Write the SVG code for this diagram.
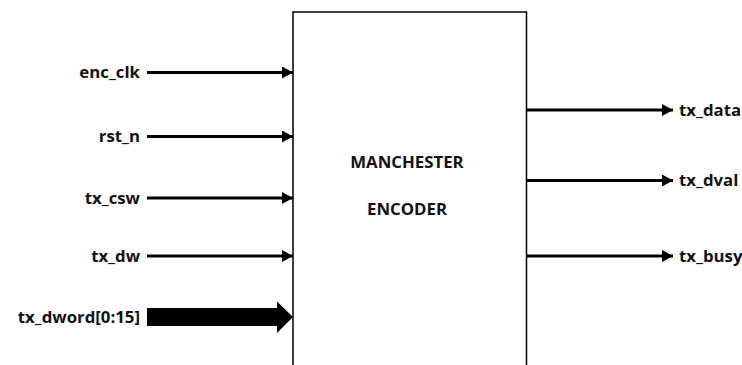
<svg xmlns="http://www.w3.org/2000/svg" width="742" height="365" viewBox="0 0 742 365">
<style>
text{font-family:"Open Sans","Liberation Sans",sans-serif;font-weight:bold;font-size:16.8px;fill:#111}
.in{text-anchor:end}
.w{stroke:#000;stroke-width:3;fill:none}
</style>
<defs>
<marker id="ah" markerUnits="userSpaceOnUse" markerWidth="12" markerHeight="12" refX="11" refY="6" orient="auto">
<path d="M0,0 L11,6 L0,12 Z" fill="#000"/>
</marker>
</defs>
<rect width="742" height="365" fill="#fff"/>
<g id="encoder">
<path d="M293,366 V12 H526.5 V366" fill="none" stroke="#000" stroke-width="1.5"/>
<text x="407" y="168" text-anchor="middle">MANCHESTER</text>
<text x="407" y="215" text-anchor="middle">ENCODER</text>
</g>
<g id="connectors">
<line class="w" x1="147" y1="72.5" x2="293" y2="72.5" marker-end="url(#ah)"/>
<line class="w" x1="147" y1="136.5" x2="293" y2="136.5" marker-end="url(#ah)"/>
<line class="w" x1="147" y1="198" x2="293" y2="198" marker-end="url(#ah)"/>
<line class="w" x1="147" y1="256" x2="293" y2="256" stroke-width="2.5" marker-end="url(#ah)"/>
<path d="M147,308 H277 V301.5 L293,317 L277,333 V326 H147 Z" fill="#000"/>
<line class="w" x1="526.5" y1="110" x2="673" y2="110" marker-end="url(#ah)"/>
<line class="w" x1="526.5" y1="180.5" x2="673" y2="180.5" stroke-width="2.5" marker-end="url(#ah)"/>
<line class="w" x1="526.5" y1="256" x2="673" y2="256" marker-end="url(#ah)"/>
</g>
<g id="port-enc_clk"><text class="in" x="140" y="78">enc_clk</text></g>
<g id="port-rst_n"><text class="in" x="140" y="142">rst_n</text></g>
<g id="port-tx_csw"><text class="in" x="140" y="204">tx_csw</text></g>
<g id="port-tx_dw"><text class="in" x="140" y="262">tx_dw</text></g>
<g id="port-tx_dword"><text class="in" x="140" y="323">tx_dword[0:15]</text></g>
<g id="port-tx_data"><text x="679" y="116">tx_data</text></g>
<g id="port-tx_dval"><text x="679" y="186">tx_dval</text></g>
<g id="port-tx_busy"><text x="679" y="262">tx_busy</text></g>
</svg>
